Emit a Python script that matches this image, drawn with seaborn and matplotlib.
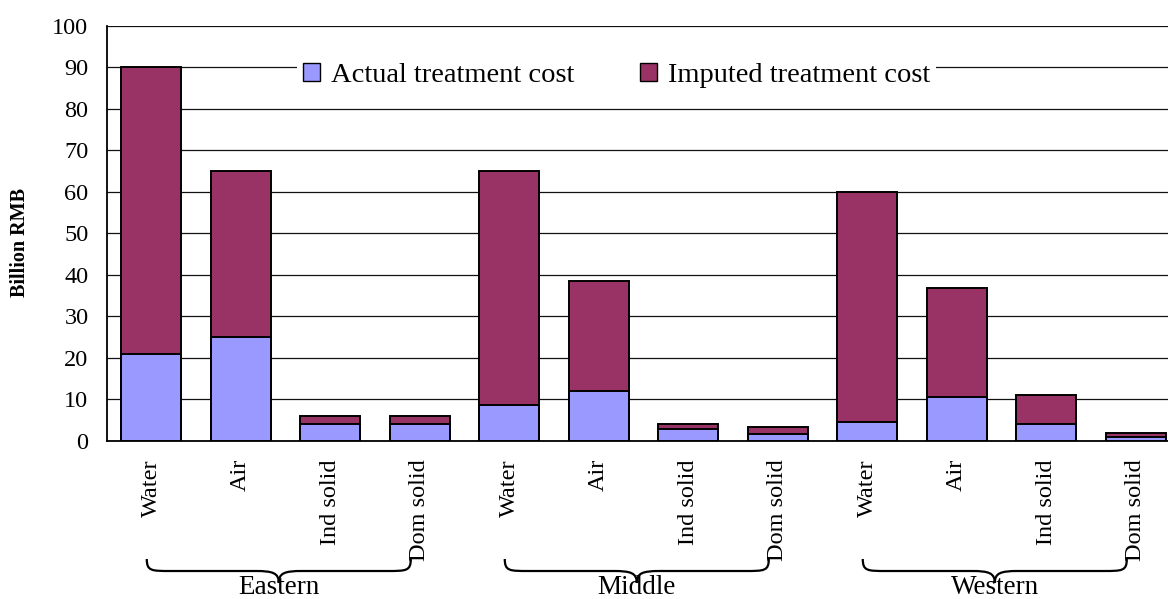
import numpy as np
import pandas as pd
import matplotlib
matplotlib.use('Agg')
import matplotlib.pyplot as plt
import seaborn as sns
from matplotlib.patches import Patch, PathPatch
from matplotlib.path import Path
from matplotlib.transforms import blended_transform_factory

# data (Billion RMB)
regions = ['Eastern', 'Middle', 'Western']
pollutants = ['Water', 'Air', 'Ind solid', 'Dom solid']
actual_cost = [21.0, 25.0, 4.0, 4.0, 8.7, 12.0, 2.9, 1.8, 4.5, 10.5, 4.1, 1.0]
imputed_cost = [69.0, 40.0, 2.0, 2.0, 56.3, 26.5, 1.2, 1.5, 55.5, 26.3, 6.9, 0.9]

actual_color = '#9999FF'
imputed_color = '#993366'

df = pd.DataFrame({
    'pos': list(range(len(actual_cost))),
    'region': [r for r in regions for _ in pollutants],
    'pollutant': pollutants * len(regions),
    'actual': actual_cost,
    'imputed': imputed_cost,
})
df['total'] = df['actual'] + df['imputed']

sns.set_style('white')
plt.rcParams['font.family'] = ['Liberation Serif', 'DejaVu Serif']
plt.rcParams['text.color'] = 'black'
plt.rcParams['xtick.color'] = 'black'
plt.rcParams['ytick.color'] = 'black'
plt.rcParams['axes.labelcolor'] = 'black'

fig = plt.figure(figsize=(11.68, 5.99), dpi=100)
W, H = 1168.0, 599.0
ax = fig.add_axes([106.5 / W, (H - 441) / H, 1074 / W, 415.3 / H])

# stacked bars: full total in imputed colour, actual drawn over it
sns.barplot(data=df, x='pos', y='total', color=imputed_color, saturation=1,
            width=0.67, edgecolor='black', linewidth=1.4, ax=ax, zorder=3)
sns.barplot(data=df, x='pos', y='actual', color=actual_color, saturation=1,
            width=0.67, edgecolor='black', linewidth=1.4, ax=ax, zorder=4)

ax.set_xlim(-0.5, len(actual_cost) - 0.5)
ax.set_ylim(0, 100)
ax.set_yticks(np.arange(0, 101, 10))
ax.tick_params(axis='y', direction='in', length=4, labelsize=17.5, pad=13)
ax.set_xticks(range(len(actual_cost)))
ax.set_xticklabels(df['pollutant'], rotation=90, va='top', ha='center', fontsize=17.5)
ax.tick_params(axis='x', which='major', length=0, pad=13)
ax.set_xticks(np.arange(0.5, len(actual_cost) - 0.5, 1), minor=True)
ax.tick_params(axis='x', which='minor', direction='in', length=7, color='#555555')

ax.grid(axis='y', color='#111111', linewidth=0.9, zorder=0)
ax.set_axisbelow(True)
for s in ['top', 'right']:
    ax.spines[s].set_visible(False)
for s in ['left', 'bottom']:
    ax.spines[s].set_color('black')
    ax.spines[s].set_linewidth(1.3)
ax.set_xlabel('')
ax.set_ylabel('')

fig.text(20 / W, 1 - 243 / H, 'Billion RMB', rotation=90, ha='center', va='center',
         fontsize=14.5, fontweight='bold')

handles = [Patch(facecolor=actual_color, edgecolor='black', linewidth=1),
           Patch(facecolor=imputed_color, edgecolor='black', linewidth=1)]
leg = ax.legend(handles, ['Actual treatment cost', 'Imputed treatment cost'],
                loc='center', bbox_to_anchor=(0.475, 0.881), ncol=2, fontsize=20.5,
                frameon=True, facecolor='white', edgecolor='none', framealpha=1,
                fancybox=False, handlelength=0.6, handleheight=0.6, handletextpad=0.4,
                columnspacing=2.3, borderpad=0.2)
leg.set_zorder(5)

# curly braces grouping the regions under the tick labels
trans = blended_transform_factory(ax.transData, fig.transFigure)


def fy(px):
    return 1 - px / H


def draw_brace(x0, x1, y_end=559, y_mid=571, y_tip=583, d=0.26):
    xm = (x0 + x1) / 2
    verts = [
        (x0, fy(y_end)),
        (x0, fy(y_mid)), (x0 + d * 0.2, fy(y_mid)), (x0 + d, fy(y_mid)),
        (xm - d, fy(y_mid)),
        (xm - d * 0.25, fy(y_mid)), (xm, fy(y_mid + 2)), (xm, fy(y_tip)),
        (xm, fy(y_mid + 2)), (xm + d * 0.25, fy(y_mid)), (xm + d, fy(y_mid)),
        (x1 - d, fy(y_mid)),
        (x1 - d * 0.2, fy(y_mid)), (x1, fy(y_mid)), (x1, fy(y_end)),
    ]
    codes = [Path.MOVETO,
             Path.CURVE4, Path.CURVE4, Path.CURVE4,
             Path.LINETO,
             Path.CURVE4, Path.CURVE4, Path.CURVE4,
             Path.CURVE4, Path.CURVE4, Path.CURVE4,
             Path.LINETO,
             Path.CURVE4, Path.CURVE4, Path.CURVE4]
    patch = PathPatch(Path(verts, codes), facecolor='none', edgecolor='black',
                      linewidth=1.6, transform=trans, clip_on=False)
    ax.add_patch(patch)
    return xm


for i, region in enumerate(regions):
    start = i * len(pollutants)
    xm = draw_brace(start - 0.05, start + 2.9)
    ax.text(xm, fy(594), region, transform=trans, ha='center', va='baseline',
            fontsize=19.5, clip_on=False)

fig.savefig('out.png', dpi=100)
